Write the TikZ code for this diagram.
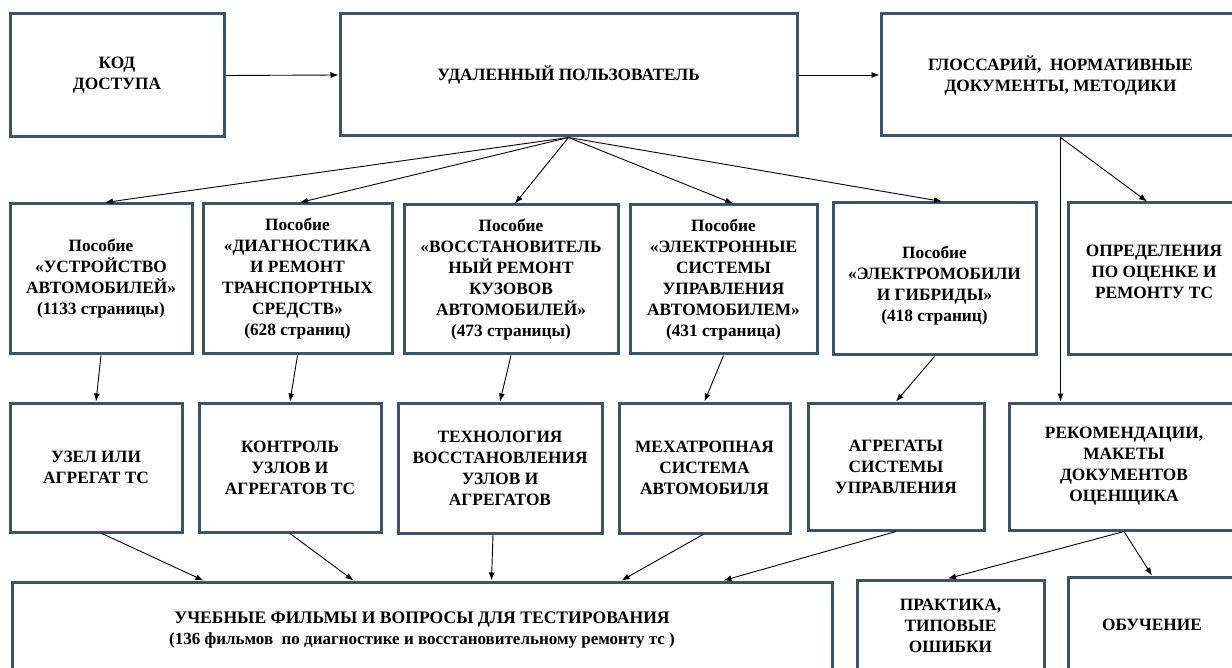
\documentclass[tikz,border=0pt]{standalone}
\usepackage{fontspec}
\setmainfont{Liberation Serif}
\usetikzlibrary{arrows.meta,calc}
\definecolor{boxline}{RGB}{62,82,104}
\begin{document}
\begin{tikzpicture}[x=1pt,y=-1pt,
  box/.style={draw=boxline, line width=3pt, fill=white, align=center,
    font=\bfseries\fontsize{17.3}{21}\selectfont, inner sep=2pt},
  conn/.style={draw=black, line width=0.9pt, -{Latex[length=8pt,width=6pt]}}]
\useasboundingbox (0,0) rectangle (1232,668);
\fill[white] (0,0) rectangle (1232,668);
% top row
\node[box, minimum width=214pt, minimum height=123pt] (kod) at (117,75.5) {КОД\\ДОСТУПА};
\node[box, minimum width=457pt, minimum height=122pt] (user) at (568.5,75) {УДАЛЕННЫЙ ПОЛЬЗОВАТЕЛЬ};
\node[box, minimum width=359pt, minimum height=122pt] (gloss) at (1060.5,75) {ГЛОССАРИЙ,~ НОРМАТИВНЫЕ\\ДОКУМЕНТЫ, МЕТОДИКИ};
% second row
\node[box, minimum width=182pt, minimum height=150pt] (ustr) at (101,279) {Пособие\\«УСТРОЙСТВО\\АВТОМОБИЛЕЙ»\\(1133 страницы)};
\node[box, minimum width=189pt, minimum height=150pt] (diag) at (297.5,279) {Пособие\\«ДИАГНОСТИКА\\И РЕМОНТ\\ТРАНСПОРТНЫХ\\СРЕДСТВ»\\(628 страниц)};
\node[box, minimum width=214pt, minimum height=149pt] (vost) at (511,279.5) {Пособие\\«ВОССТАНОВИТЕЛЬ\\НЫЙ РЕМОНТ\\КУЗОВОВ\\АВТОМОБИЛЕЙ»\\(473 страницы)};
\node[box, minimum width=187pt, minimum height=149pt] (elek) at (723.5,279.5) {Пособие\\«ЭЛЕКТРОННЫЕ\\СИСТЕМЫ\\УПРАВЛЕНИЯ\\АВТОМОБИЛЕМ»\\(431 страница)};
\node[box, minimum width=203pt, minimum height=152pt] (elmob) at (934.5,279) {\rule{0pt}{25pt}Пособие\\«ЭЛЕКТРОМОБИЛИ\\И ГИБРИДЫ»\\(418 страниц)};
\node[box, minimum width=172pt, minimum height=152pt] (opred) at (1154,279) {ОПРЕДЕЛЕНИЯ\\ПО ОЦЕНКЕ И\\РЕМОНТУ ТС\\[-7pt]\mbox{}};
% third row
\node[box, minimum width=172pt, minimum height=129pt] (uzel) at (96,467.5) {УЗЕЛ ИЛИ\\АГРЕГАТ ТС};
\node[box, minimum width=182pt, minimum height=129pt] (kontr) at (290,467.5) {КОНТРОЛЬ\\УЗЛОВ И\\АГРЕГАТОВ ТС};
\node[box, minimum width=204pt, minimum height=130pt] (tech) at (500,468) {ТЕХНОЛОГИЯ\\ВОССТАНОВЛЕНИЯ\\УЗЛОВ И\\АГРЕГАТОВ};
\node[box, minimum width=171pt, minimum height=130pt] (mech) at (704.5,468) {МЕХАТРОПНАЯ\\СИСТЕМА\\АВТОМОБИЛЯ};
\node[box, minimum width=176pt, minimum height=127pt] (agr) at (896,466.5) {АГРЕГАТЫ\\СИСТЕМЫ\\УПРАВЛЕНИЯ};
\node[box, minimum width=230pt, minimum height=127pt] (rek) at (1124,466.5) {РЕКОМЕНДАЦИИ,\\МАКЕТЫ\\ДОКУМЕНТОВ\\ОЦЕНЩИКА};
% bottom row
\node[box, minimum width=820pt, minimum height=96pt] (ucheb) at (422,630) {{\fontsize{17.6}{21}\selectfont УЧЕБНЫЕ ФИЛЬМЫ И ВОПРОСЫ ДЛЯ ТЕСТИРОВАНИЯ}\\{\fontsize{17}{22}\selectfont (136 фильмов~ по диагностике и восстановительному ремонту тс )}};
\node[box, minimum width=187pt, minimum height=92pt] (prak) at (950.5,626) {ПРАКТИКА,\\ТИПОВЫЕ\\ОШИБКИ};
\node[box, minimum width=168pt, minimum height=96pt] (obuch) at (1152,625) {ОБУЧЕНИЕ};
% connectors
\draw[conn] (kod.east) -- (user.west);
\draw[conn] (user.east) -- (gloss.west);
\draw[conn] (user.south) -- ([xshift=4pt]ustr.north);
\draw[conn] (user.south) -- ([xshift=2.5pt]diag.north);
\draw[conn] (user.south) -- ([xshift=4pt]vost.north);
\draw[conn] (user.south) -- ([xshift=9.5pt]elek.north);
\draw[conn] (user.south) -- ([xshift=7.5pt]elmob.north);
\draw[conn] (gloss.south) -- ([xshift=-7pt]opred.north);
\draw[conn] (gloss.south) -- (gloss.south |- rek.north);
\draw[conn] (ustr.south) -- (uzel.north);
\draw[conn] (diag.south) -- (kontr.north);
\draw[conn] (vost.south) -- (tech.north);
\draw[conn] (elek.south) -- (mech.north);
\draw[conn] (elmob.south) -- (agr.north);
\draw[conn] ([xshift=6pt]uzel.south) -- ([xshift=193pt]ucheb.north west);
\draw[conn] (kontr.south) -- ([xshift=343pt]ucheb.north west);
\draw[conn] ([xshift=-7pt]tech.south) -- ([xshift=481pt]ucheb.north west);
\draw[conn] ([xshift=-1.5pt]mech.south) -- ([xshift=611pt]ucheb.north west);
\draw[conn] (agr.south) -- ([xshift=713pt]ucheb.north west);
\draw[conn] (rek.south) -- ([xshift=-2.5pt]prak.north);
\draw[conn] (rek.south) -- (obuch.north);
\end{tikzpicture}
\end{document}
